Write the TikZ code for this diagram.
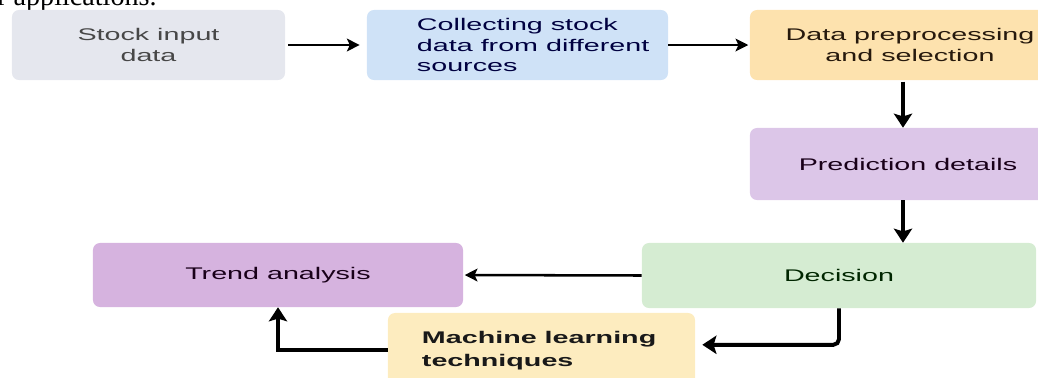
\documentclass[tikz,border=0pt]{standalone}
\usepackage{fontspec}
\setmainfont{Liberation Sans}[FakeStretch=1.7]
\newfontfamily\pagefont{Liberation Serif}
\usepackage{tikz}
\usetikzlibrary{arrows.meta}
\usetikzlibrary{positioning}

\definecolor{inputgray}{HTML}{E5E7EE}
\definecolor{collectblue}{HTML}{CFE2F7}
\definecolor{prepor}{HTML}{FDE2AE}
\definecolor{predlilac}{HTML}{DCC6E8}
\definecolor{decgreen}{HTML}{D5ECD2}
\definecolor{trendpurple}{HTML}{D6B3DF}
\definecolor{mlyellow}{HTML}{FDECBF}

\begin{document}
\begin{tikzpicture}[
    x=0.025cm, y=-0.025cm,
    box/.style={rounded corners=5pt, inner sep=0pt, align=center,
        font=\fontsize{12}{15.5}\selectfont},
    boxtext/.style={inner sep=0pt, align=left, font=\fontsize{12}{14.5}\selectfont},
    thin flow/.style={-{Stealth[length=9pt, width=9pt, inset=2pt]}, line width=1.8pt},
    thick flow/.style={-{Stealth[length=10pt, width=13pt, inset=2pt]}, line width=2.8pt}
    ]

    \useasboundingbox (0,0) rectangle (1038,377);

    % line of page text above the figure
    \node[anchor=base west, inner sep=0pt, font=\pagefont\fontsize{20}{24}\selectfont] (pagetext) at (-3,5) {r applications.};

    % top row
    \node[box, fill=inputgray, text=black!72, minimum width=6.825cm, minimum height=1.75cm] (input) at (148.5,45) {Stock input\\data};
    \node[box, fill=collectblue, minimum width=7.525cm, minimum height=1.75cm] (collect) at (517.5,45) {};
    \node[boxtext, text=black!75!blue, right=1.25cm of collect.west] (collecttext) {Collecting stock\\data from different\\sources};
    \node[box, fill=prepor, text=black!80!brown, minimum width=8cm, minimum height=1.75cm] (prep) at (910,45) {Data preprocessing\\and selection};

    % right column
    \coordinate (spine) at (903,0);
    \node[box, fill=predlilac, text=black!80!violet, minimum width=7.9cm, minimum height=1.8cm] (pred) at (908,164) {Prediction details};
    \node[box, fill=decgreen, text=black!85!green, minimum width=9.85cm, minimum height=1.625cm] (decision) at (839,275.5) {Decision};

    % bottom row
    \node[box, fill=trendpurple, text=black!80!violet, minimum width=9.25cm, minimum height=1.6cm] (trend) at (278,275) {Trend analysis};
    \node[box, fill=mlyellow, minimum width=7.675cm, minimum height=1.8cm] (ml) at (541.5,349) {};
    \node[boxtext, text=black!90, font=\bfseries\fontsize{12}{16.5}\selectfont, right=0.85cm of ml.west, yshift=-1pt] (mltext) {Machine learning\\techniques};

    % arrows
    \draw[thin flow, shorten <=2pt, shorten >=5pt] (input.east) -- (collect.west);
    \draw[thin flow, shorten >=1pt] (collect.east) -- (prep.west);
    \draw[thick flow, shorten <=1pt] (prep.south -| spine) -- (pred.north -| spine);
    \draw[thick flow] (pred.south -| spine) -- (decision.north -| spine);
    \draw[thin flow, shorten >=1pt] (decision.west) -- (trend.east);
    \draw[thick flow, rounded corners=4pt, shorten >=5pt] (decision.south) |- ([yshift=3pt]ml.east);
    \draw[thick flow] ([yshift=-1pt]ml.west) -| (trend.south);

\end{tikzpicture}
\end{document}
